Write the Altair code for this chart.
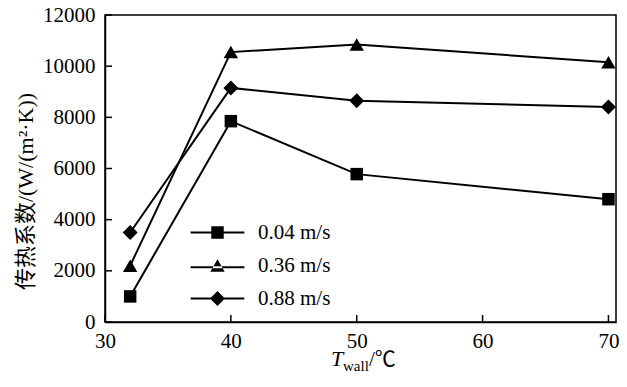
import altair as alt
import pandas as pd

# ---- data ----
t_wall = [32, 40, 50, 70]
series_names = ["0.04 m/s", "0.36 m/s", "0.88 m/s"]
h_004 = [1000, 7850, 5780, 4800]
h_036 = [2200, 10550, 10850, 10150]
h_088 = [3500, 9150, 8650, 8400]
x_ticks = [30, 40, 50, 60, 70]
y_ticks = [0, 2000, 4000, 6000, 8000, 10000, 12000]
y_title = "传热系数/(W/(m²·K))"
x_title_parts = ["T", "wall", "/℃"]

rows = []
for name, vals in zip(series_names, [h_004, h_036, h_088]):
    for x, y in zip(t_wall, vals):
        rows.append({"series": name, "T": x, "h": y})
df = pd.DataFrame(rows)
xt = pd.DataFrame({"xv": x_ticks})
yt = pd.DataFrame({"yv": y_ticks})

SERIF = "Liberation Serif"
CJK = "Liberation Serif, Noto Sans CJK SC"
W, H = 511, 307

xscale = alt.Scale(domain=[30, 70.6], nice=False, zero=False)
yscale = alt.Scale(domain=[0, 12000], nice=False)

xaxis = alt.Axis(title="", values=x_ticks, format="d", ticks=False, labelFlush=False,
                 labelFont=SERIF, labelFontSize=21, labelColor="black",
                 labelPadding=8, domainColor="black", domainWidth=1.5, grid=False)
yaxis = alt.Axis(title=y_title, values=y_ticks, format="d", ticks=False, labelFlush=False,
                 labelFont=SERIF, labelFontSize=21, labelColor="black",
                 labelPadding=10, domainColor="black", domainWidth=1.5, grid=False,
                 titleFont=CJK, titleFontSize=22, titleFontWeight="normal",
                 titleColor="black", titleX=-80, titleY=176, titleAngle=-90,
                 titleAlign="center", titleBaseline="middle")

shape_paths = [
    "M-1,-1H1V1H-1Z",
    "M0,-1.0L-1.15,1.0L1.15,1.0Z",
    "M-1.2,0L0,-1.2L1.2,0L0,1.2Z",
]
# legend glyphs: a thin bar (the line) plus the marker, all filled
legend_paths = [
    "M-4.3,-0.16H4.3V0.16H-4.3ZM-1,-1H1V1H-1Z",
    "M-4.3,0.14H4.3V0.46H-4.3ZM0,-1.0L-1.15,1.0L1.15,1.0Z",
    "M-4.3,-0.16H4.3V0.16H-4.3ZM-1.2,0L0,-1.2L1.2,0L0,1.2Z",
]

base = alt.Chart(df)

lines = base.mark_line(color="black", strokeWidth=2).encode(
    x=alt.X("T:Q", scale=xscale, axis=xaxis),
    y=alt.Y("h:Q", scale=yscale, axis=yaxis),
    detail="series:N",
)

points = base.mark_point(filled=True, color="black", opacity=1, size=156).encode(
    x=alt.X("T:Q", scale=xscale, axis=xaxis),
    y=alt.Y("h:Q", scale=yscale, axis=yaxis),
    shape=alt.Shape("series:N", scale=alt.Scale(domain=series_names, range=shape_paths), legend=None),
)

legend_layer = base.mark_point(filled=True, color="black", opacity=1, size=156).encode(
    x=alt.X("T:Q", scale=xscale, axis=xaxis),
    y=alt.Y("h:Q", scale=yscale, axis=yaxis),
    shape=alt.Shape("series:N", scale=alt.Scale(domain=series_names, range=legend_paths),
                    legend=alt.Legend(title=None, orient="none", legendX=102, legendY=207,
                                      labelFont=SERIF, labelFontSize=21, labelColor="black",
                                      symbolSize=156, symbolFillColor="black",
                                      symbolOpacity=1, labelOffset=30, rowPadding=11,
                                      padding=0)),
).transform_filter("false")

xtick_rules = alt.Chart(xt).mark_rule(color="black", strokeWidth=1.5).encode(
    x=alt.X("xv:Q", scale=xscale, axis=xaxis),
    y=alt.value(H), y2=alt.value(H - 7),
)
ytick_rules = alt.Chart(yt).mark_rule(color="black", strokeWidth=1.5).encode(
    y=alt.Y("yv:Q", scale=yscale, axis=yaxis),
    x=alt.value(0), x2=alt.value(7),
)

tdf = pd.DataFrame({"k": [0]})
t1 = alt.Chart(tdf).mark_text(font=SERIF, fontSize=22, fontStyle="italic", color="black",
                              align="left", baseline="alphabetic").encode(
    x=alt.value(226), y=alt.value(351), text=alt.value(x_title_parts[0]))
t2 = alt.Chart(tdf).mark_text(font=SERIF, fontSize=15, color="black",
                              align="left", baseline="alphabetic").encode(
    x=alt.value(238), y=alt.value(356), text=alt.value(x_title_parts[1]))
t3 = alt.Chart(tdf).mark_text(font=CJK, fontSize=21, color="black",
                              align="left", baseline="alphabetic").encode(
    x=alt.value(264), y=alt.value(351), text=alt.value(x_title_parts[2]))

chart = alt.layer(lines, points, legend_layer, xtick_rules, ytick_rules, t1, t2, t3).resolve_scale(
    shape="independent"
).properties(
    width=W, height=H,
    autosize=alt.AutoSizeParams(type="none"),
    padding={"left": 97, "top": 7, "right": 3, "bottom": 57},
).configure(
    background="white", font=SERIF
).configure_view(
    stroke="black", strokeWidth=1.5
)

chart.save("out.html", embed_options={"renderer": "svg", "actions": False})
